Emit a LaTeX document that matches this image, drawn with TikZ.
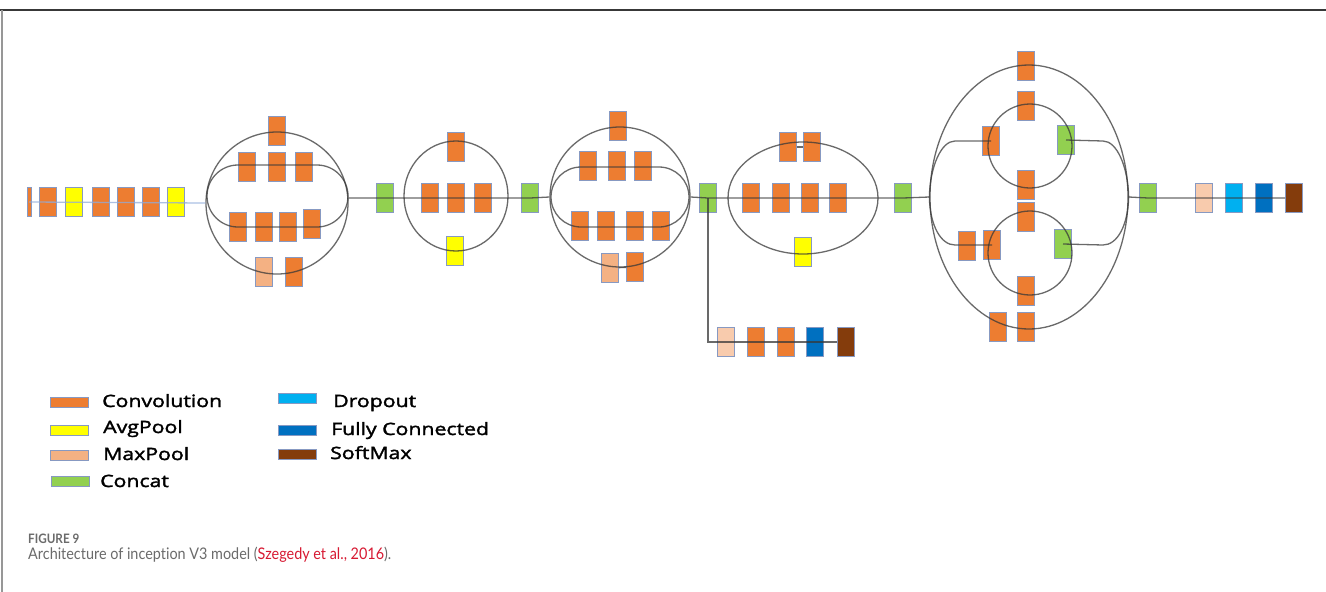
\documentclass[tikz,border=0pt]{standalone}
\usepackage{fontspec}
\usetikzlibrary{shapes.geometric}

\newfontfamily\legendfont{Open Sans}[FakeBold=2, FakeStretch=1.25]
\newfontfamily\capfont{Lato}[FakeStretch=0.9, Ligatures=NoCommon]
\newlength{\du}
\setlength{\du}{1pt}

\tikzset{
  blk/.style={rectangle, draw=boxedge, line width=0.7\du, minimum width=17\du, minimum height=29\du, inner sep=0pt},
  conv/.style={blk, fill=convfill},
  avgp/.style={blk, fill=avgfill},
  maxp/.style={blk, fill=maxfill},
  maxpl/.style={blk, fill=maxlight},
  concat/.style={blk, fill=catfill},
  dropb/.style={blk, fill=dropfill},
  fcb/.style={blk, fill=fcfill},
  softb/.style={blk, fill=softfill},
  wire/.style={draw=dialinecolor, line width=1.3\du, draw opacity=0.75},
  ring/.style={wire, fill=none, inner sep=0pt},
  swatch/.style={rectangle, draw=boxedge, line width=0.8\du, minimum width=38\du, minimum height=10\du, inner sep=0pt},
  keytext/.style={anchor=base west, inner sep=0pt, font=\legendfont\fontsize{17}{19}\selectfont, text=black}
}

\begin{document}
\begin{tikzpicture}
  \pgftransformxscale{1.000000}
  \pgftransformyscale{-1.000000}
  \definecolor{dialinecolor}{rgb}{0.220000, 0.220000, 0.220000}
  \definecolor{chainline}{rgb}{0.560000, 0.670000, 0.860000}
  \definecolor{boxedge}{rgb}{0.530000, 0.600000, 0.760000}
  \definecolor{convfill}{rgb}{0.929000, 0.490000, 0.192000}
  \definecolor{avgfill}{rgb}{1.000000, 1.000000, 0.000000}
  \definecolor{maxfill}{rgb}{0.957000, 0.694000, 0.514000}
  \definecolor{maxlight}{rgb}{0.973000, 0.796000, 0.678000}
  \definecolor{catfill}{rgb}{0.573000, 0.816000, 0.314000}
  \definecolor{dropfill}{rgb}{0.000000, 0.690000, 0.941000}
  \definecolor{fcfill}{rgb}{0.000000, 0.439000, 0.753000}
  \definecolor{softfill}{rgb}{0.518000, 0.235000, 0.047000}
  \definecolor{capgray}{rgb}{0.420000, 0.420000, 0.420000}
  \definecolor{citered}{rgb}{0.843000, 0.098000, 0.196000}
  \useasboundingbox (0\du,0\du) rectangle (1326\du,592\du);
  \fill[white] (0\du,0\du) rectangle (1326\du,592\du);

  % frame
  \draw[draw=dialinecolor, line width=1.5\du] (0\du,10\du) -- (1326\du,10\du);
  \draw[draw=capgray!70, line width=2\du] (2\du,10\du) -- (2\du,592\du);

  % stem
  \node[conv, minimum width=4\du] (c0) at (29\du,202\du) {};
  \node[conv] (c1) at (48\du,202\du) {};
  \node[avgp] (c2) at (74\du,202\du) {};
  \node[conv] (c3) at (101\du,202\du) {};
  \node[conv] (c4) at (126\du,202\du) {};
  \node[conv] (c5) at (151\du,202\du) {};
  \node[avgp] (c6) at (176\du,202\du) {};

  % block 1
  \node[conv] (m1a) at (277\du,131\du) {};
  \node[conv] (m1b) at (247\du,167\du) {};
  \node[conv] (m1c) at (277\du,167\du) {};
  \node[conv] (m1d) at (304\du,167\du) {};
  \node[conv] (m1e) at (238\du,227\du) {};
  \node[conv] (m1f) at (264\du,227\du) {};
  \node[conv] (m1g) at (288\du,227\du) {};
  \node[conv] (m1h) at (312\du,224\du) {};
  \node[maxp] (m1i) at (264\du,272\du) {};
  \node[conv] (m1j) at (294\du,272\du) {};
  \node[concat] (cc1) at (385\du,198\du) {};

  % block 2
  \node[conv] (m2a) at (456\du,147\du) {};
  \node[conv] (m2b) at (430\du,198\du) {};
  \node[conv] (m2c) at (456\du,198\du) {};
  \node[conv] (m2d) at (483\du,198\du) {};
  \node[avgp] (m2e) at (455\du,251\du) {};
  \node[concat] (cc2) at (530\du,198\du) {};

  % block 3
  \node[conv] (m3a) at (618\du,126\du) {};
  \node[conv] (m3b) at (588\du,166\du) {};
  \node[conv] (m3c) at (617\du,166\du) {};
  \node[conv] (m3d) at (643\du,166\du) {};
  \node[conv] (m3e) at (580\du,226\du) {};
  \node[conv] (m3f) at (606\du,226\du) {};
  \node[conv] (m3g) at (635\du,226\du) {};
  \node[conv] (m3h) at (661\du,226\du) {};
  \node[maxp] (m3i) at (610\du,268\du) {};
  \node[conv] (m3j) at (635\du,267\du) {};
  \node[concat] (cc3) at (708\du,198\du) {};

  % auxiliary head
  \node[maxpl] (a1) at (726\du,342\du) {};
  \node[conv] (a2) at (756\du,342\du) {};
  \node[conv] (a3) at (786\du,342\du) {};
  \node[fcb] (a4) at (815\du,342\du) {};
  \node[softb] (a5) at (846\du,342\du) {};

  % block 4
  \node[conv] (m4a) at (788\du,147\du) {};
  \node[conv] (m4b) at (812\du,147\du) {};
  \node[conv] (m4c) at (751\du,198\du) {};
  \node[conv] (m4d) at (781\du,198\du) {};
  \node[conv] (m4e) at (810\du,198\du) {};
  \node[conv] (m4f) at (838\du,198\du) {};
  \node[avgp] (m4g) at (803\du,252\du) {};
  \node[concat] (cc4) at (903\du,198\du) {};

  % block 5
  \node[conv] (m5a) at (1026\du,106\du) {};
  \node[conv] (m5b) at (991\du,141\du) {};
  \node[concat] (m5c) at (1066\du,140\du) {};
  \node[conv] (m5d) at (1026\du,185\du) {};
  \node[conv] (m5e) at (1026\du,217\du) {};
  \node[conv] (m5f) at (992\du,245\du) {};
  \node[concat] (m5g) at (1063\du,244\du) {};
  \node[conv] (m5h) at (1026\du,291\du) {};
  \node[conv] (m5i) at (967\du,246\du) {};
  \node[conv] (m5j) at (1026\du,66\du) {};
  \node[conv] (m5k) at (998\du,327\du) {};
  \node[conv] (m5m) at (1026\du,327\du) {};
  \node[concat] (cc5) at (1148\du,198\du) {};

  % head
  \node[maxpl] (t1) at (1204\du,198\du) {};
  \node[dropb] (t2) at (1234\du,198\du) {};
  \node[fcb] (t3) at (1264\du,198\du) {};
  \node[softb] (t4) at (1294\du,198\du) {};

  % outlines
  \node[ring, circle, minimum size=142\du] (m1) at (277\du,203\du) {};
  \node[ring, ellipse, minimum width=104\du, minimum height=110\du] (m2) at (456\du,196\du) {};
  \node[ring, circle, minimum size=140\du] (m3) at (620\du,197\du) {};
  \node[ring, ellipse, minimum width=150\du, minimum height=112\du] (m4) at (803\du,198\du) {};
  \node[ring, ellipse, minimum width=198\du, minimum height=264\du] (m5) at (1029\du,197\du) {};
  \node[ring, circle, minimum size=84\du] (m5u) at (1030\du,146\du) {};
  \node[ring, circle, minimum size=84\du] (m5l) at (1030\du,253\du) {};
  \draw[wire, rounded corners=31\du] (207\du,165\du) rectangle (348\du,227\du);
  \draw[wire, rounded corners=30\du] (551\du,167\du) rectangle (689\du,227\du);

  % main path
  \draw[wire, draw=chainline] (c0.center) -- (m1.west);
  \draw[wire] (m1.east |- cc1.center) -- (cc1.center) -- (cc2.center) -- (m3.west);
  \draw[wire] (m3.east) -- (cc3.center) -- (cc4.center) -- (m5.west);
  \draw[wire] (m5.east) -- (cc5.center) -- (t4.west);
  \draw[wire] (cc3.center) |- (a5.west);
  \draw[wire] (m3i) -- (m3j);
  \draw[wire] (m4a) -- (m4b);

  % side branches of block 5
  \draw[wire] (m5.west) .. controls (930\du,167\du) and (941\du,141\du) .. (955\du,141\du) -- (m5b.center);
  \draw[wire] (m5c.center) -- (1103\du,141\du) .. controls (1117\du,141\du) and (1128\du,167\du) .. (m5.east);
  \draw[wire] (m5.west) .. controls (930\du,226\du) and (941\du,245\du) .. (955\du,245\du) -- (m5f.center);
  \draw[wire] (m5g.center) -- (1103\du,245\du) .. controls (1117\du,245\du) and (1128\du,226\du) .. (m5.east);

  % legend
  \node[swatch, fill=convfill] (kconv) at (69\du,402\du) {};
  \node[keytext] (tconv) at (102\du,407\du) {Convolution};
  \node[swatch, fill=avgfill] (kavg) at (69\du,430\du) {};
  \node[keytext] (tavg) at (103\du,433\du) {AvgPool};
  \node[swatch, fill=maxfill] (kmax) at (69\du,455\du) {};
  \node[keytext] (tmax) at (103\du,460\du) {MaxPool};
  \node[swatch, fill=catfill] (kcat) at (70\du,481\du) {};
  \node[keytext] (tcat) at (100\du,487\du) {Concat};
  \node[swatch, fill=dropfill] (kdrop) at (297\du,398\du) {};
  \node[keytext] (tdrop) at (333\du,407\du) {Dropout};
  \node[swatch, fill=fcfill] (kfc) at (297\du,430\du) {};
  \node[keytext] (tfc) at (331\du,435\du) {Fully Connected};
  \node[swatch, fill=softfill] (ksoft) at (297\du,454\du) {};
  \node[keytext] (tsoft) at (330\du,459\du) {SoftMax};

  % caption
  \node[anchor=base west, inner sep=0pt, text=capgray, font=\capfont\bfseries\fontsize{13}{15}\selectfont] (fig) at (28\du,543\du) {FIGURE 9};
  \node[anchor=base west, inner sep=0pt, text=capgray, font=\capfont\fontsize{16}{19}\selectfont] (cap) at (28\du,559\du) {Architecture of inception V3 model ({\color{citered}Szegedy et al., 2016}).};
\end{tikzpicture}
\end{document}
